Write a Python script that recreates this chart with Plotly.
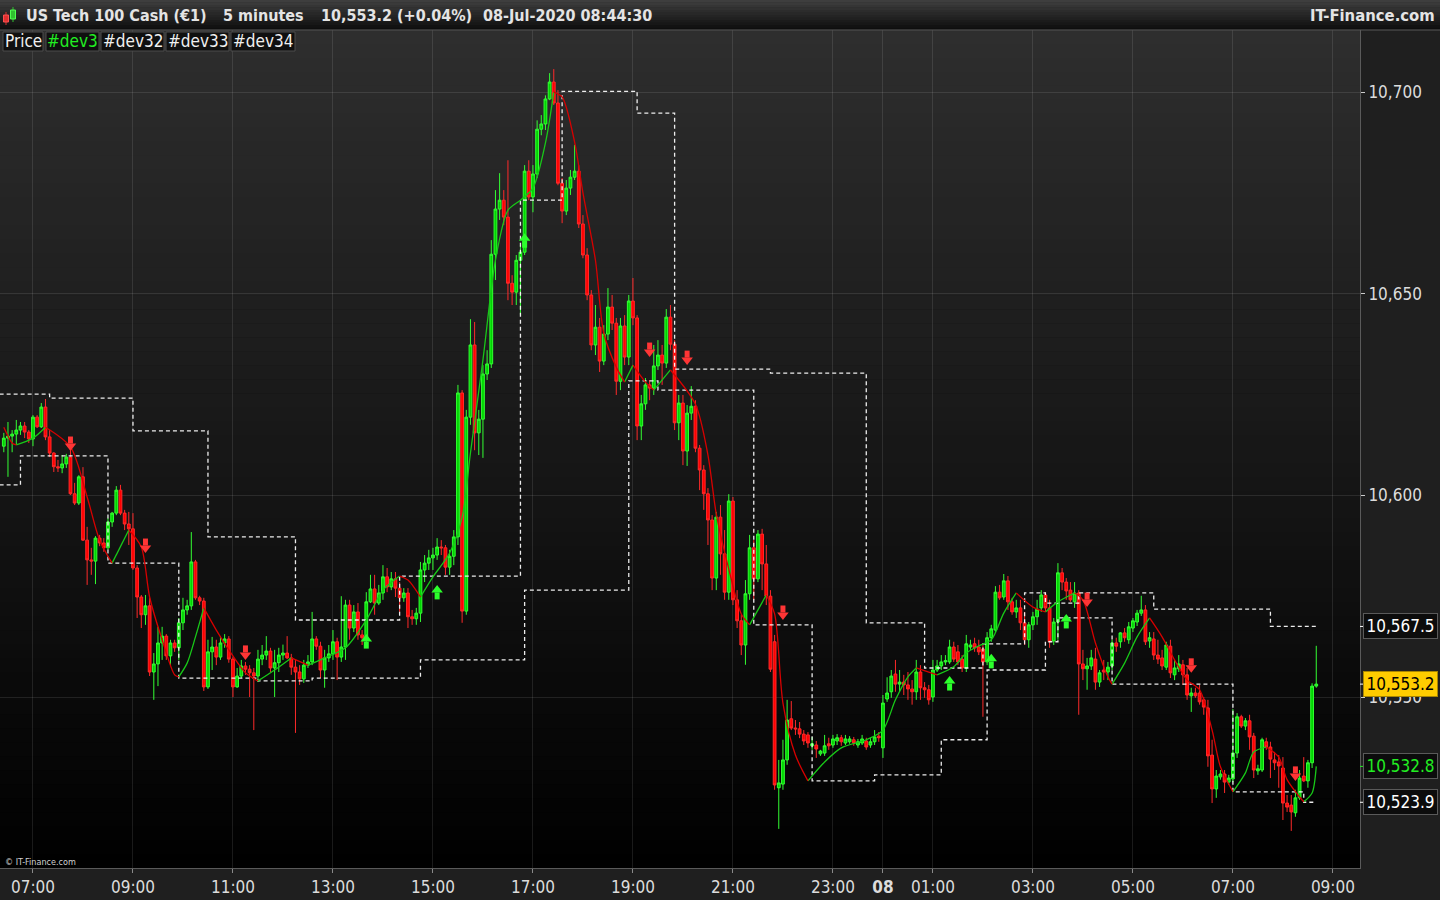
import plotly.graph_objects as go
import pandas as pd

# ---------------- data ----------------
open_ = [
    10612.2, 10614.2, 10614.7, 10615.2, 10616.2, 10617.2, 10615.7, 10614.0, 10619.4, 10617.0,
    10621.9, 10614.5, 10610.5, 10607.1, 10606.8, 10607.8, 10609.5, 10600.4, 10598.1, 10604.6,
    10588.9, 10584.0, 10583.7, 10589.4, 10588.2, 10587.0, 10593.4, 10595.6, 10601.3, 10595.6,
    10592.9, 10591.7, 10582.0, 10574.8, 10570.4, 10572.6, 10556.2, 10558.2, 10563.4, 10565.1,
    10560.2, 10563.4, 10562.2, 10568.4, 10571.6, 10572.6, 10583.5, 10574.6, 10573.8, 10552.5,
    10561.2, 10562.4, 10559.9, 10563.4, 10564.4, 10559.4, 10552.5, 10555.2, 10557.7, 10556.9,
    10556.0, 10555.2, 10559.4, 10560.4, 10561.4, 10557.2, 10558.5, 10560.4, 10560.9, 10559.7,
    10557.4, 10556.2, 10554.5, 10557.9, 10558.7, 10564.4, 10562.6, 10556.7, 10559.7, 10560.7,
    10563.7, 10559.9, 10562.4, 10572.8, 10567.1, 10571.1, 10565.4, 10564.7, 10573.6, 10576.8,
    10573.3, 10575.8, 10579.8, 10577.3, 10579.3, 10577.0, 10574.6, 10575.8, 10569.9, 10569.4,
    10570.8, 10581.5, 10583.2, 10584.5, 10585.2, 10587.2, 10587.0, 10582.2, 10584.9, 10589.7,
    10625.4, 10571.3, 10619.4, 10637.3, 10615.5, 10618.9, 10630.1, 10632.6, 10659.8, 10671.0,
    10673.2, 10669.0, 10652.6, 10650.4, 10658.3, 10660.3, 10680.4, 10674.0, 10679.7, 10690.8,
    10692.1, 10698.3, 10702.5, 10697.3, 10677.4, 10670.5, 10676.2, 10678.9, 10680.4, 10667.3,
    10659.6, 10649.7, 10637.3, 10641.7, 10633.3, 10640.0, 10646.7, 10642.7, 10628.3, 10642.0,
    10634.3, 10648.2, 10644.0, 10617.2, 10622.7, 10627.4, 10626.6, 10632.1, 10634.8, 10632.8,
    10644.2, 10637.5, 10618.0, 10622.9, 10611.0, 10620.4, 10622.1, 10611.7, 10606.3, 10600.4,
    10593.9, 10579.5, 10594.6, 10585.5, 10576.0, 10598.6, 10574.1, 10568.9, 10562.9, 10575.6,
    10587.0, 10579.3, 10590.4, 10583.0, 10575.0, 10563.7, 10527.5, 10528.4, 10534.4, 10544.6,
    10542.3, 10542.1, 10540.8, 10540.6, 10537.9, 10538.1, 10535.9, 10536.1, 10538.4, 10538.1,
    10539.1, 10539.9, 10538.6, 10538.9, 10539.4, 10538.1, 10538.6, 10539.1, 10538.1, 10538.9,
    10540.3, 10537.4, 10549.5, 10551.3, 10555.7, 10553.2, 10553.7, 10553.0, 10552.0, 10551.3,
    10556.2, 10552.3, 10551.8, 10550.0, 10556.7, 10557.7, 10558.7, 10558.7, 10562.4, 10561.2,
    10559.4, 10557.2, 10562.4, 10563.2, 10562.4, 10561.9, 10558.7, 10564.7, 10566.6, 10576.0,
    10574.8, 10578.8, 10573.6, 10571.1, 10572.1, 10568.4, 10564.2, 10567.9, 10569.9, 10572.1,
    10575.3, 10572.1, 10563.9, 10568.6, 10580.8, 10578.5, 10576.5, 10573.6, 10575.8, 10558.2,
    10557.0, 10557.7, 10559.4, 10553.7, 10556.7, 10556.2, 10557.7, 10563.4, 10563.7, 10565.9,
    10564.2, 10567.1, 10568.6, 10570.8, 10571.6, 10563.9, 10564.4, 10560.4, 10559.7, 10557.4,
    10562.6, 10555.5, 10557.0, 10558.0, 10555.5, 10550.3, 10551.0, 10551.0, 10549.3, 10547.3,
    10535.6, 10527.2, 10530.2, 10530.9, 10528.9, 10529.7, 10536.1, 10545.1, 10542.8, 10544.1,
    10540.3, 10531.7, 10531.9, 10538.9, 10537.6, 10534.4, 10533.9, 10532.4, 10523.7, 10523.2,
    10521.3, 10525.0, 10530.4, 10529.2, 10533.7, 10552.7,
]
high = [
    10615.5, 10618.2, 10616.2, 10618.7, 10618.2, 10618.2, 10616.2, 10619.9, 10619.9, 10622.9,
    10623.9, 10616.2, 10610.7, 10608.8, 10610.0, 10610.3, 10611.2, 10603.1, 10605.0, 10607.0,
    10592.2, 10587.0, 10589.9, 10590.2, 10589.4, 10594.4, 10595.9, 10602.3, 10602.6, 10596.4,
    10595.9, 10595.6, 10582.7, 10575.3, 10575.3, 10574.6, 10560.9, 10567.4, 10567.4, 10565.6,
    10564.2, 10564.2, 10569.6, 10574.6, 10574.1, 10590.9, 10584.0, 10575.1, 10574.6, 10564.2,
    10564.9, 10564.2, 10565.1, 10565.6, 10565.1, 10559.9, 10557.2, 10559.2, 10558.7, 10557.9,
    10557.2, 10561.7, 10562.9, 10565.1, 10562.2, 10561.7, 10562.2, 10563.0, 10565.1, 10560.7,
    10559.2, 10557.9, 10559.2, 10560.4, 10571.1, 10565.1, 10563.7, 10561.7, 10562.9, 10566.6,
    10564.7, 10575.0, 10574.1, 10574.1, 10572.8, 10573.3, 10566.6, 10576.0, 10580.3, 10580.3,
    10577.8, 10582.7, 10582.0, 10581.0, 10581.0, 10578.5, 10577.0, 10577.0, 10571.6, 10572.1,
    10583.5, 10585.2, 10586.5, 10587.0, 10589.4, 10588.9, 10587.7, 10586.5, 10591.4, 10627.4,
    10626.1, 10621.2, 10643.7, 10643.0, 10621.2, 10632.3, 10636.0, 10663.3, 10675.7, 10679.9,
    10675.7, 10683.1, 10654.6, 10659.6, 10662.1, 10681.9, 10683.1, 10681.9, 10693.0, 10694.3,
    10699.2, 10704.7, 10705.7, 10700.5, 10678.7, 10678.2, 10680.7, 10686.9, 10681.9, 10669.5,
    10661.3, 10650.9, 10647.2, 10644.0, 10642.2, 10651.4, 10649.7, 10644.0, 10644.0, 10644.7,
    10649.7, 10653.9, 10644.7, 10624.9, 10629.1, 10628.6, 10637.3, 10638.5, 10637.3, 10646.2,
    10647.2, 10638.5, 10624.9, 10624.9, 10622.4, 10627.1, 10623.6, 10612.5, 10607.5, 10601.8,
    10595.1, 10595.9, 10597.6, 10591.4, 10600.3, 10599.6, 10576.5, 10570.4, 10579.0, 10590.2,
    10588.9, 10591.4, 10591.7, 10587.7, 10576.5, 10565.4, 10534.4, 10539.4, 10549.3, 10549.0,
    10544.3, 10543.8, 10541.8, 10541.3, 10540.1, 10539.1, 10536.9, 10540.6, 10539.9, 10540.6,
    10540.8, 10540.6, 10540.6, 10540.3, 10540.1, 10539.6, 10540.6, 10539.9, 10539.9, 10541.8,
    10541.3, 10550.5, 10554.9, 10556.7, 10559.2, 10556.7, 10555.5, 10556.2, 10554.2, 10559.2,
    10557.9, 10553.7, 10553.0, 10559.2, 10559.2, 10560.4, 10560.4, 10564.2, 10563.7, 10562.9,
    10560.4, 10565.4, 10564.2, 10564.7, 10564.2, 10562.9, 10566.1, 10567.9, 10577.5, 10577.8,
    10580.5, 10580.0, 10574.6, 10574.1, 10574.1, 10571.1, 10568.6, 10571.1, 10574.1, 10576.5,
    10576.0, 10574.1, 10569.6, 10583.2, 10582.0, 10579.5, 10578.5, 10578.5, 10576.5, 10561.7,
    10559.7, 10561.7, 10562.2, 10556.7, 10559.2, 10558.7, 10564.2, 10564.7, 10566.1, 10567.1,
    10568.6, 10569.6, 10571.6, 10575.1, 10572.8, 10566.1, 10566.1, 10564.2, 10561.7, 10563.7,
    10564.2, 10559.2, 10560.4, 10559.2, 10557.2, 10552.3, 10552.3, 10553.0, 10550.0, 10549.3,
    10539.4, 10531.9, 10531.9, 10531.9, 10530.7, 10547.0, 10546.0, 10545.6, 10544.8, 10545.6,
    10541.1, 10533.2, 10539.9, 10539.9, 10538.9, 10536.4, 10535.6, 10535.1, 10525.7, 10525.7,
    10527.0, 10531.9, 10535.1, 10534.4, 10553.4, 10562.7,
]
low = [
    10610.7, 10604.6, 10610.7, 10612.5, 10615.0, 10614.2, 10613.0, 10612.2, 10616.7, 10616.7,
    10613.7, 10609.5, 10605.8, 10605.8, 10605.5, 10606.8, 10600.1, 10597.6, 10597.6, 10588.7,
    10577.8, 10580.3, 10578.0, 10587.4, 10586.0, 10586.5, 10592.2, 10595.1, 10595.1, 10591.4,
    10587.7, 10581.5, 10569.6, 10567.1, 10567.9, 10555.2, 10549.3, 10552.7, 10559.2, 10559.2,
    10557.9, 10561.2, 10559.2, 10566.6, 10570.4, 10571.6, 10574.1, 10572.8, 10551.5, 10552.0,
    10556.7, 10557.9, 10559.2, 10562.2, 10558.5, 10550.0, 10552.3, 10554.7, 10555.5, 10550.0,
    10541.8, 10553.7, 10557.9, 10559.2, 10556.2, 10550.0, 10556.2, 10559.2, 10559.4, 10555.5,
    10541.1, 10553.0, 10553.5, 10557.2, 10557.9, 10561.7, 10554.7, 10552.3, 10558.7, 10559.2,
    10554.2, 10558.7, 10559.2, 10564.2, 10566.1, 10564.2, 10562.9, 10562.9, 10573.3, 10570.4,
    10572.8, 10574.1, 10576.0, 10576.5, 10574.8, 10571.1, 10573.6, 10567.1, 10567.9, 10567.9,
    10568.6, 10578.5, 10581.5, 10581.5, 10584.0, 10585.2, 10580.3, 10580.3, 10582.7, 10587.7,
    10568.4, 10570.4, 10617.5, 10611.2, 10610.0, 10609.3, 10628.6, 10631.6, 10653.4, 10668.3,
    10667.0, 10648.4, 10647.2, 10647.2, 10644.7, 10659.6, 10673.2, 10670.2, 10678.7, 10689.3,
    10690.6, 10698.0, 10696.8, 10676.9, 10667.5, 10669.5, 10674.5, 10678.2, 10666.3, 10658.8,
    10648.4, 10636.0, 10634.8, 10630.6, 10632.3, 10638.5, 10641.0, 10624.9, 10626.1, 10632.3,
    10632.3, 10642.2, 10613.7, 10613.7, 10621.2, 10623.6, 10624.9, 10631.1, 10627.4, 10631.6,
    10636.0, 10616.2, 10613.7, 10607.5, 10607.3, 10618.7, 10610.7, 10601.3, 10596.4, 10587.7,
    10576.5, 10576.5, 10580.3, 10574.1, 10574.1, 10572.8, 10567.1, 10560.4, 10558.0, 10574.1,
    10574.1, 10578.5, 10576.5, 10572.8, 10556.2, 10527.0, 10517.3, 10527.0, 10533.2, 10541.8,
    10540.6, 10539.8, 10538.1, 10537.4, 10536.9, 10534.9, 10535.4, 10535.4, 10536.9, 10537.4,
    10538.1, 10537.9, 10538.1, 10538.4, 10537.9, 10537.4, 10538.1, 10536.9, 10537.4, 10538.1,
    10538.9, 10534.9, 10548.8, 10549.8, 10551.3, 10551.3, 10550.5, 10549.3, 10548.1, 10549.3,
    10549.3, 10549.8, 10548.1, 10548.8, 10556.2, 10556.7, 10557.9, 10558.2, 10558.7, 10557.9,
    10556.2, 10556.2, 10561.7, 10561.2, 10560.4, 10545.1, 10557.9, 10563.7, 10565.9, 10574.1,
    10574.1, 10571.6, 10570.4, 10569.6, 10566.6, 10562.9, 10562.2, 10566.6, 10567.9, 10571.1,
    10571.1, 10562.2, 10562.9, 10564.2, 10576.5, 10574.1, 10573.6, 10572.1, 10545.6, 10554.2,
    10551.8, 10556.7, 10551.8, 10552.5, 10554.2, 10554.2, 10556.7, 10561.2, 10562.2, 10563.7,
    10563.2, 10566.1, 10567.6, 10570.1, 10562.9, 10562.2, 10559.2, 10558.2, 10556.7, 10556.7,
    10554.7, 10554.2, 10556.2, 10553.0, 10549.3, 10546.3, 10549.8, 10548.1, 10545.6, 10532.7,
    10523.7, 10525.0, 10529.5, 10526.2, 10528.2, 10528.9, 10534.9, 10542.3, 10541.8, 10536.9,
    10529.9, 10530.7, 10531.4, 10536.9, 10529.9, 10531.9, 10527.5, 10519.5, 10521.5, 10516.8,
    10520.3, 10524.5, 10528.9, 10527.5, 10532.4, 10552.3,
]
close = [
    10614.2, 10614.7, 10615.2, 10616.2, 10617.2, 10615.7, 10614.0, 10619.4, 10617.0, 10621.9,
    10614.5, 10610.5, 10607.1, 10606.8, 10607.8, 10609.5, 10600.4, 10598.1, 10604.6, 10588.9,
    10584.0, 10583.7, 10589.4, 10588.2, 10587.0, 10593.4, 10595.6, 10601.3, 10595.6, 10592.9,
    10591.7, 10582.0, 10574.8, 10570.4, 10572.6, 10556.2, 10558.2, 10563.4, 10565.1, 10560.2,
    10563.4, 10562.2, 10568.4, 10571.6, 10572.6, 10583.5, 10574.6, 10573.8, 10552.5, 10561.2,
    10562.4, 10559.9, 10563.4, 10564.4, 10559.4, 10552.5, 10555.2, 10557.7, 10556.9, 10556.0,
    10555.2, 10559.4, 10560.4, 10561.4, 10557.2, 10558.5, 10560.4, 10560.9, 10559.7, 10557.4,
    10556.2, 10554.5, 10557.9, 10558.7, 10564.4, 10562.6, 10556.7, 10559.7, 10560.7, 10563.7,
    10559.9, 10562.4, 10572.8, 10567.1, 10571.1, 10565.4, 10564.7, 10573.6, 10576.8, 10573.3,
    10575.8, 10579.8, 10577.3, 10579.3, 10577.0, 10574.6, 10575.8, 10569.9, 10569.4, 10570.8,
    10581.5, 10583.2, 10584.5, 10585.2, 10587.2, 10587.0, 10582.2, 10584.9, 10589.7, 10625.4,
    10571.3, 10619.4, 10637.3, 10615.5, 10618.9, 10630.1, 10632.6, 10659.8, 10671.0, 10673.2,
    10669.0, 10652.6, 10650.4, 10658.3, 10660.3, 10680.4, 10674.0, 10679.7, 10690.8, 10692.1,
    10698.3, 10702.5, 10697.3, 10677.4, 10670.5, 10676.2, 10678.9, 10680.4, 10667.3, 10659.6,
    10649.7, 10637.3, 10641.7, 10633.3, 10640.0, 10646.7, 10642.7, 10628.3, 10642.0, 10634.3,
    10648.2, 10644.0, 10617.2, 10622.7, 10627.4, 10626.6, 10632.1, 10634.8, 10632.8, 10644.2,
    10637.5, 10618.0, 10622.9, 10611.0, 10620.4, 10622.1, 10611.7, 10606.3, 10600.4, 10593.9,
    10579.5, 10594.6, 10585.5, 10576.0, 10598.6, 10574.1, 10568.9, 10562.9, 10575.6, 10587.0,
    10579.3, 10590.4, 10583.0, 10575.0, 10556.9, 10528.2, 10528.7, 10534.4, 10544.3, 10542.3,
    10542.1, 10540.8, 10539.1, 10538.6, 10538.4, 10537.1, 10536.6, 10537.9, 10537.9, 10539.6,
    10539.9, 10538.9, 10539.6, 10539.6, 10538.6, 10538.9, 10539.6, 10537.6, 10538.9, 10540.1,
    10539.9, 10548.5, 10551.0, 10555.2, 10553.2, 10553.7, 10553.0, 10552.0, 10551.3, 10556.2,
    10552.3, 10551.8, 10549.3, 10556.7, 10557.7, 10558.7, 10559.0, 10562.4, 10559.4, 10558.7,
    10557.2, 10563.2, 10562.9, 10562.2, 10561.2, 10558.7, 10564.7, 10566.9, 10576.0, 10574.6,
    10578.8, 10573.6, 10571.1, 10572.1, 10568.4, 10564.2, 10567.9, 10569.9, 10571.8, 10575.3,
    10572.1, 10563.7, 10568.6, 10580.8, 10578.5, 10576.3, 10574.1, 10575.8, 10558.2, 10557.0,
    10557.7, 10559.7, 10553.7, 10556.0, 10556.2, 10557.4, 10563.4, 10562.6, 10565.9, 10564.7,
    10567.4, 10568.9, 10570.8, 10571.6, 10563.7, 10564.7, 10560.4, 10559.4, 10557.7, 10562.9,
    10556.0, 10557.2, 10558.2, 10555.5, 10550.5, 10551.0, 10550.3, 10548.8, 10547.5, 10535.4,
    10527.2, 10530.4, 10530.9, 10528.9, 10529.9, 10536.1, 10545.1, 10542.8, 10544.1, 10540.1,
    10531.9, 10532.2, 10539.4, 10537.6, 10534.6, 10533.7, 10532.9, 10523.7, 10522.7, 10521.5,
    10525.0, 10529.9, 10529.2, 10533.7, 10552.7, 10553.2,
]
bar_start = "2020-07-07 06:25"
bar_step = "5min"

# dashed step levels (#dev32 / #dev33 / #dev34)
upper_time = ["2020-07-07 06:20", "2020-07-07 07:20", "2020-07-07 09:00", "2020-07-07 10:30",
              "2020-07-07 12:15", "2020-07-07 14:20", "2020-07-07 16:45", "2020-07-07 17:35",
              "2020-07-07 19:05", "2020-07-07 19:50", "2020-07-07 21:45", "2020-07-07 23:40",
              "2020-07-08 00:50", "2020-07-08 02:00", "2020-07-08 02:50", "2020-07-08 03:15",
              "2020-07-08 03:55", "2020-07-08 05:25", "2020-07-08 07:45", "2020-07-08 08:40"]
upper_level = [10625.1, 10624.1, 10616.0, 10589.7, 10569.1, 10580.0, 10673.2, 10700.2,
               10694.8, 10631.3, 10630.3, 10568.4, 10557.2, 10563.2, 10575.8, 10573.3,
               10575.8, 10571.8, 10567.5, 10567.5]
lower_time = ["2020-07-07 06:20", "2020-07-07 06:45", "2020-07-07 08:30", "2020-07-07 09:55",
              "2020-07-07 11:30", "2020-07-07 12:35", "2020-07-07 14:45", "2020-07-07 16:50",
              "2020-07-07 18:55", "2020-07-07 19:30", "2020-07-07 21:25", "2020-07-07 22:35",
              "2020-07-07 23:50", "2020-07-08 01:10", "2020-07-08 02:05", "2020-07-08 03:15",
              "2020-07-08 03:30", "2020-07-08 04:35", "2020-07-08 07:00", "2020-07-08 08:25",
              "2020-07-08 08:40"]
lower_level = [10602.6, 10609.8, 10583.2, 10554.7, 10554.0, 10554.7, 10559.2, 10576.5,
               10628.4, 10626.1, 10567.9, 10529.2, 10530.7, 10539.4, 10556.7, 10563.7,
               10569.6, 10553.2, 10526.5, 10523.9, 10523.9]

# #dev3 smoothed average, read at bar indices
ma_bar = [0, 2, 3, 7, 10, 16, 20, 23, 26, 30, 33, 35, 38, 41, 42, 44, 46, 48, 51, 54,
          58, 61, 65, 69, 73, 77, 82, 87, 91, 95, 97, 100, 103, 107, 110, 112, 115, 118, 121, 124,
          127, 130, 132, 134, 137, 139, 142, 144, 147, 149, 151, 154, 156, 160, 166, 169, 171, 174, 177, 179,
          183, 185, 187, 190, 193, 197, 201, 207, 211, 214, 217, 219, 222, 224, 228, 231, 234, 237, 240, 243,
          247, 250, 253, 257, 259, 262, 265, 266, 269, 272, 275, 278, 281, 284, 287, 290, 292, 295, 298, 300,
          303, 306, 308, 311, 312, 314, 315]
ma_val = [10616.9, 10613.0, 10612.5, 10614.2, 10616.9, 10612.0, 10599.6, 10588.9, 10583.2, 10591.4,
          10587.2, 10574.8, 10564.2, 10555.5, 10555.0, 10558.4, 10564.9, 10572.1, 10566.6, 10561.7,
          10556.0, 10554.0, 10556.7, 10559.7, 10557.9, 10559.7, 10562.2, 10569.1, 10576.5, 10580.0,
          10579.0, 10574.8, 10579.8, 10585.7, 10594.6, 10610.5, 10633.6, 10658.3, 10670.7, 10673.2,
          10676.2, 10687.4, 10700.0, 10698.8, 10687.6, 10675.0, 10658.3, 10640.2, 10631.8, 10628.1,
          10632.3, 10628.1, 10626.1, 10631.1, 10622.6, 10610.0, 10595.4, 10581.7, 10570.6, 10567.9,
          10575.3, 10570.6, 10548.5, 10535.6, 10529.2, 10533.9, 10537.4, 10539.4, 10541.8, 10549.3,
          10555.0, 10557.2, 10556.2, 10555.5, 10557.5, 10560.9, 10562.7, 10564.2, 10570.8, 10575.8,
          10572.3, 10571.1, 10573.6, 10575.8, 10574.1, 10563.4, 10555.0, 10553.2, 10558.4, 10564.9,
          10569.6, 10564.9, 10559.2, 10554.2, 10551.8, 10541.8, 10532.7, 10526.5, 10531.2, 10536.4,
          10537.6, 10535.1, 10529.5, 10525.2, 10524.0, 10526.2, 10532.8]

# signal arrows (bar index, price of the arrow tip)
down_bar = [16, 34, 58, 155, 164, 187, 260, 285, 310]
down_tip = [10611.0, 10585.7, 10559.2, 10634.3, 10632.3, 10569.1, 10572.3, 10556.0, 10529.2]
up_bar = [87, 104, 125, 227, 237, 255]
up_tip = [10565.6, 10577.8, 10665.0, 10555.2, 10560.7, 10570.6]

x_tick_time = ["2020-07-07 07:00", "2020-07-07 09:00", "2020-07-07 11:00", "2020-07-07 13:00",
               "2020-07-07 15:00", "2020-07-07 17:00", "2020-07-07 19:00", "2020-07-07 21:00",
               "2020-07-07 23:00", "2020-07-08 00:00", "2020-07-08 01:00", "2020-07-08 03:00",
               "2020-07-08 05:00", "2020-07-08 07:00", "2020-07-08 09:00"]
x_tick_text = ["07:00", "09:00", "11:00", "13:00", "15:00", "17:00", "19:00", "21:00",
               "23:00", "<b>08</b>", "01:00", "03:00", "05:00", "07:00", "09:00"]
y_tick_vals = [10550, 10600, 10650, 10700]

last_price = 10553.2
upper_last = 10567.5
ma_last = 10532.8
lower_last = 10523.9

title_instrument = "US Tech 100 Cash (€1)"
title_period = "5 minutes"
title_quote = "10,553.2 (+0.04%)"
title_time = "08-Jul-2020 08:44:30"
brand = "IT-Finance.com"
legend_items = ["Price", "#dev3", "#dev32", "#dev33", "#dev34"]

# ---------------- layout geometry ----------------
W, H = 1440, 900
PL, PR, PT, PB = 0, 1360, 30, 868
X_RANGE = ["2020-07-07 06:20:26", "2020-07-08 09:32:30"]
Y_RANGE = [10507.6, 10715.4]
PP = (Y_RANGE[1] - Y_RANGE[0]) / (PB - PT)  # price per pixel
FONT = "DejaVu Sans Condensed, DejaVu Sans, Liberation Sans, sans-serif"

GREEN = "#00d400"
GREEN_LINE = "#33ff33"
RED = "#ff0000"
RED_LINE = "#ff2a2a"


def fx(px):
    return px / W


def fy(py):
    return 1 - py / H


assert len(open_) == len(high) == len(low) == len(close)
times = pd.date_range(bar_start, periods=len(close), freq=bar_step)

fig = go.Figure()

# background gradients
N = 60
for k in range(N):
    y0 = PT + (PB - PT) * k / N
    y1 = PT + (PB - PT) * (k + 1) / N + 0.5
    t = (k + 0.5) / N
    c = int(round(46 * (1 - t)))
    fig.add_shape(type="rect", xref="paper", yref="paper", x0=fx(PL), x1=fx(PR),
                  y0=fy(y1), y1=fy(y0), fillcolor=f"rgb({c},{c},{c})",
                  line_width=0, layer="below")
NH = 12
for k in range(NH):
    y0 = PT * k / NH
    y1 = PT * (k + 1) / NH + 0.3
    t = (k + 0.5) / NH
    c = int(round(64 - 52 * t))
    fig.add_shape(type="rect", xref="paper", yref="paper", x0=0, x1=1,
                  y0=fy(y1), y1=fy(y0), fillcolor=f"rgb({c},{c},{c})",
                  line_width=0, layer="below")
fig.add_shape(type="line", xref="paper", yref="paper", x0=0, x1=1, y0=fy(30), y1=fy(30),
              line=dict(color="#5c5c5c", width=1))

# candles
fig.add_trace(go.Candlestick(
    x=times, open=open_, high=high, low=low, close=close,
    increasing=dict(line=dict(color=GREEN_LINE, width=1), fillcolor=GREEN),
    decreasing=dict(line=dict(color=RED_LINE, width=1), fillcolor=RED),
    whiskerwidth=0, hoverinfo="skip", showlegend=False))

# dashed step lines
for tt, vv in [(upper_time, upper_level), (lower_time, lower_level)]:
    fig.add_trace(go.Scatter(
        x=pd.to_datetime(tt), y=vv, mode="lines",
        line=dict(color="rgba(255,255,255,0.92)", width=1.3, dash="4px,3px", shape="hv"),
        hoverinfo="skip", showlegend=False))

# coloured smoothed average
ma_t = [times[i] for i in ma_bar]
parts = {"up": ([], []), "down": ([], [])}
n = len(ma_val)
k = 0
while k < n - 1:
    d = "up" if ma_val[k + 1] > ma_val[k] else "down"
    j = k
    while j < n - 1 and ("up" if ma_val[j + 1] > ma_val[j] else "down") == d:
        j += 1
    xs, ys = parts[d]
    xs.extend(ma_t[k:j + 1] + [None])
    ys.extend(ma_val[k:j + 1] + [None])
    k = j
for d, col in [("up", "#18c818"), ("down", "#d80000")]:
    xs, ys = parts[d]
    fig.add_trace(go.Scatter(x=xs, y=ys, mode="lines",
                             line=dict(color=col, width=1.3, shape="spline", smoothing=0.8),
                             connectgaps=False, hoverinfo="skip", showlegend=False))

# arrows
ARW_R = "#ff3535"
ARW_G = "#2cff2c"
dx = [times[i] for i in down_bar]
fig.add_trace(go.Scatter(x=dx, y=[v + 5 * PP for v in down_tip], mode="markers",
                         marker=dict(symbol="triangle-down", size=10, color=ARW_R, line=dict(width=0)),
                         hoverinfo="skip", showlegend=False))
fig.add_trace(go.Scatter(x=dx, y=[v + 11 * PP for v in down_tip], mode="markers",
                         marker=dict(symbol="line-ns", size=5, color=ARW_R, line=dict(width=5, color=ARW_R)),
                         hoverinfo="skip", showlegend=False))
ux = [times[i] for i in up_bar]
fig.add_trace(go.Scatter(x=ux, y=[v - 5 * PP for v in up_tip], mode="markers",
                         marker=dict(symbol="triangle-up", size=10, color=ARW_G, line=dict(width=0)),
                         hoverinfo="skip", showlegend=False))
fig.add_trace(go.Scatter(x=ux, y=[v - 11 * PP for v in up_tip], mode="markers",
                         marker=dict(symbol="line-ns", size=5, color=ARW_G, line=dict(width=5, color=ARW_G)),
                         hoverinfo="skip", showlegend=False))

# right-axis value boxes
for val, fg, bg, bd, tick in [
    (upper_last, "#ffffff", "#0c0c0c", "#5a5a5a", "#ffffff"),
    (last_price, "#000000", "#ffcc00", "#a88600", "#ffffff"),
    (ma_last, "#22ee22", "#0c0c0c", "#5a5a5a", "#22ee22"),
    (lower_last, "#ffffff", "#0c0c0c", "#5a5a5a", "#ffffff"),
]:
    fig.add_annotation(xref="paper", x=fx(1363), xanchor="left", yref="y", y=val, yanchor="middle",
                       text=f"{val:,.1f}", showarrow=False, align="center",
                       font=dict(family=FONT, size=17, color=fg),
                       bgcolor=bg, bordercolor=bd, borderwidth=1, borderpad=2, width=69)
    fig.add_shape(type="line", xref="paper", yref="y", x0=fx(1360), x1=fx(1364), y0=val, y1=val,
                  line=dict(color=tick, width=1))

# header
fig.add_shape(type="line", xref="paper", yref="paper", x0=fx(6), x1=fx(6), y0=fy(25), y1=fy(12),
              line=dict(color="#d83030", width=1))
fig.add_shape(type="rect", xref="paper", yref="paper", x0=fx(3.5), x1=fx(8.5), y0=fy(22), y1=fy(15),
              fillcolor="#e03030", line=dict(color="#ff5050", width=1))
fig.add_shape(type="line", xref="paper", yref="paper", x0=fx(13), x1=fx(13), y0=fy(22), y1=fy(7),
              line=dict(color="#30c030", width=1))
fig.add_shape(type="rect", xref="paper", yref="paper", x0=fx(10.5), x1=fx(15.5), y0=fy(19), y1=fy(10),
              fillcolor="#30c030", line=dict(color="#50ff50", width=1))
for txt, x0 in [(title_instrument, 24), (title_period, 221), (title_quote, 319), (title_time, 481)]:
    fig.add_annotation(xref="paper", yref="paper", x=fx(x0), y=fy(15), xanchor="left", yanchor="middle",
                       text=f"<b>{txt}</b>", showarrow=False,
                       font=dict(family=FONT, size=16, color="#e4e4e4"))
fig.add_annotation(xref="paper", yref="paper", x=fx(1437), y=fy(15), xanchor="right", yanchor="middle",
                   text=f"<b>{brand}</b>", showarrow=False,
                   font=dict(family=FONT, size=16.5, color="#e4e4e4"))

# legend row
box_x = [(3, 43), (46, 99), (101, 164), (166, 229), (231, 295)]
for (x0, x1), name in zip(box_x, legend_items):
    fig.add_shape(type="rect", xref="paper", yref="paper", x0=fx(x0), x1=fx(x1), y0=fy(51), y1=fy(32),
                  fillcolor="#101010", line=dict(color="#4c4c4c", width=1))
    fig.add_annotation(xref="paper", yref="paper", x=fx((x0 + x1) / 2), y=fy(41.5),
                       xanchor="center", yanchor="middle", text=name, showarrow=False,
                       font=dict(family=FONT, size=17, color="#22ee22" if name == "#dev3" else "#f0f0f0"))

# copyright
fig.add_annotation(xref="paper", yref="paper", x=fx(3), y=fy(862), xanchor="left", yanchor="middle",
                   text="© " + brand, showarrow=False, font=dict(family=FONT, size=9, color="#d0d0d0"))

fig.update_layout(
    width=W, height=H, margin=dict(l=0, r=0, t=0, b=0),
    paper_bgcolor="#1f1f1f", plot_bgcolor="#000000",
    showlegend=False, hovermode=False, boxgap=0.05,
    xaxis=dict(domain=[fx(PL), fx(PR)], range=X_RANGE, type="date",
               rangeslider=dict(visible=False),
               tickvals=pd.to_datetime(x_tick_time), ticktext=x_tick_text,
               tickfont=dict(family=FONT, size=17, color="#dcdcdc"),
               ticks="outside", ticklen=4, tickcolor="#8a8a8a",
               showgrid=True, gridcolor="rgba(255,255,255,0.10)", gridwidth=1,
               showline=True, linecolor="#5a5a5a", zeroline=False, fixedrange=True),
    yaxis=dict(domain=[fy(PB), fy(PT)], range=Y_RANGE, side="right",
               tickvals=y_tick_vals, tickformat=",.0f",
               tickfont=dict(family=FONT, size=17, color="#dcdcdc"),
               ticks="outside", ticklen=4, tickcolor="#cccccc",
               showgrid=True, gridcolor="rgba(255,255,255,0.10)", gridwidth=1,
               showline=True, linecolor="#5a5a5a", zeroline=False, fixedrange=True),
)

fig.write_html("out.html", config={"displayModeBar": False},
               post_script="document.body.style.margin='0';document.body.style.overflow='hidden';")
